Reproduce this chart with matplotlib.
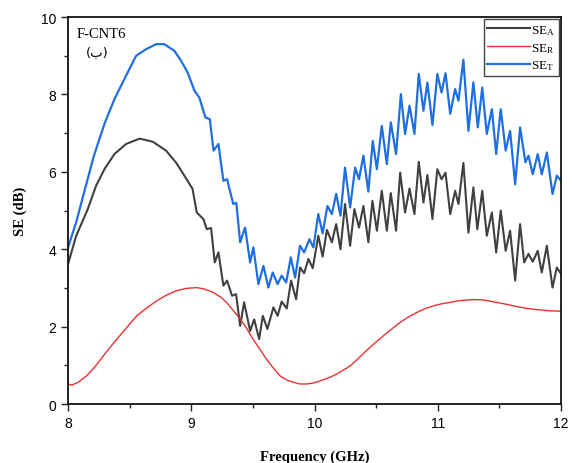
import matplotlib
matplotlib.use("Agg")
import matplotlib.pyplot as plt
from matplotlib.ticker import MultipleLocator

# SE_A (absorption), peaks and troughs of the ripple
freq_a = [8.00, 8.065, 8.16, 8.227, 8.295, 8.376, 8.47, 8.58, 8.687, 8.795,
          8.876, 8.944, 9.01, 9.044, 9.098, 9.125, 9.16, 9.19, 9.22, 9.26,
          9.29, 9.33, 9.363, 9.396, 9.428, 9.477, 9.51, 9.55, 9.58, 9.617,
          9.666, 9.70, 9.733, 9.774, 9.809, 9.85, 9.882, 9.915, 9.95, 9.985,
          10.03, 10.065, 10.10, 10.14, 10.175, 10.21, 10.247, 10.288, 10.323, 10.36,
          10.396, 10.436, 10.469, 10.505, 10.545, 10.586, 10.618, 10.661, 10.694, 10.734,
          10.77, 10.81, 10.845, 10.883, 10.915, 10.956, 10.996, 11.03, 11.062, 11.10,
          11.14, 11.167, 11.207, 11.248, 11.288, 11.32, 11.36, 11.397, 11.438, 11.473,
          11.51, 11.55, 11.586, 11.627, 11.667, 11.70, 11.735, 11.77, 11.81, 11.843,
          11.884, 11.93, 11.965, 12.0]
se_a = [3.62, 4.34, 5.04, 5.64, 6.07, 6.46, 6.72, 6.86, 6.78, 6.55,
        6.24, 5.90, 5.56, 4.95, 4.78, 4.52, 4.55, 3.66, 3.92, 3.06,
        3.19, 2.80, 2.84, 2.02, 2.63, 1.89, 2.19, 1.68, 2.28, 1.94,
        2.50, 2.28, 2.65, 2.47, 3.19, 2.71, 3.53, 3.38, 3.75, 3.51,
        4.35, 3.81, 4.50, 4.18, 4.65, 4.00, 5.17, 4.09, 5.04, 4.56,
        5.12, 4.18, 5.25, 4.48, 5.51, 4.48, 5.45, 4.48, 5.98, 4.95,
        5.57, 4.91, 6.26, 5.21, 5.92, 4.78, 6.07, 5.81, 5.98, 4.91,
        5.51, 5.17, 6.23, 4.43, 5.60, 4.52, 5.51, 4.35, 4.95, 3.92,
        5.00, 3.96, 4.48, 3.19, 4.65, 3.66, 3.88, 3.68, 3.96, 3.40,
        4.09, 3.01, 3.53, 3.36]

# SE_R (reflection), smooth curve
freq_r = [8.00, 8.03, 8.08, 8.15, 8.22, 8.287, 8.35, 8.42, 8.49, 8.557,
          8.64, 8.72, 8.80, 8.88, 8.96, 9.044, 9.11, 9.18, 9.24, 9.288,
          9.34, 9.396, 9.45, 9.50, 9.555, 9.61, 9.665, 9.72, 9.775, 9.83,
          9.88, 9.937, 10.0, 10.045, 10.10, 10.15, 10.22, 10.29, 10.355, 10.42,
          10.49, 10.56, 10.63, 10.694, 10.76, 10.83, 10.9, 10.964, 11.03, 11.10,
          11.17, 11.235, 11.30, 11.37, 11.44, 11.505, 11.57, 11.64, 11.71, 11.775,
          11.84, 11.91, 12.0]
se_r = [0.52, 0.49, 0.56, 0.73, 0.97, 1.25, 1.50, 1.77, 2.03, 2.28,
        2.49, 2.67, 2.82, 2.93, 2.99, 3.01, 2.97, 2.88, 2.76, 2.62,
        2.42, 2.20, 1.95, 1.68, 1.42, 1.16, 0.93, 0.73, 0.62, 0.56,
        0.52, 0.52, 0.55, 0.60, 0.66, 0.73, 0.85, 0.99, 1.18, 1.38,
        1.58, 1.77, 1.95, 2.11, 2.25, 2.37, 2.47, 2.54, 2.59, 2.63,
        2.67, 2.69, 2.70, 2.69, 2.65, 2.61, 2.57, 2.52, 2.48, 2.45,
        2.43, 2.41, 2.40]

# SE_T (total)
freq_t = [8.00, 8.065, 8.13, 8.21, 8.295, 8.376, 8.457, 8.552, 8.633, 8.714,
          8.78, 8.862, 8.917, 8.97, 9.025, 9.065, 9.114, 9.15, 9.18, 9.22,
          9.26, 9.29, 9.34, 9.365, 9.396, 9.436, 9.477, 9.503, 9.544, 9.585,
          9.625, 9.66, 9.70, 9.733, 9.769, 9.807, 9.842, 9.882, 9.915, 9.958,
          9.99, 10.03, 10.065, 10.104, 10.14, 10.175, 10.21, 10.247, 10.288, 10.329,
          10.36, 10.396, 10.436, 10.472, 10.505, 10.545, 10.586, 10.618, 10.661, 10.70,
          10.734, 10.77, 10.81, 10.845, 10.883, 10.915, 10.956, 10.996, 11.03, 11.062,
          11.10, 11.14, 11.167, 11.207, 11.248, 11.288, 11.324, 11.36, 11.397, 11.438,
          11.473, 11.51, 11.55, 11.586, 11.627, 11.667, 11.71, 11.735, 11.77, 11.81,
          11.843, 11.884, 11.93, 11.965, 12.0]
se_t = [4.05, 4.69, 5.47, 6.42, 7.24, 7.88, 8.40, 9.00, 9.17, 9.30,
        9.30, 9.13, 8.87, 8.57, 8.10, 7.92, 7.41, 7.36, 6.55, 6.72,
        5.77, 5.81, 5.17, 5.20, 4.18, 4.56, 3.66, 4.05, 3.10, 3.57,
        3.01, 3.40, 3.10, 3.32, 3.14, 3.79, 3.27, 4.09, 3.92, 4.26,
        4.05, 4.91, 4.41, 5.12, 4.91, 5.43, 4.87, 6.11, 5.08, 6.11,
        5.81, 6.42, 5.49, 6.80, 6.07, 7.19, 6.20, 7.28, 6.46, 8.01,
        6.98, 7.71, 6.98, 8.53, 7.58, 8.31, 7.21, 8.53, 8.05, 8.55,
        7.50, 8.14, 7.84, 8.90, 7.06, 8.31, 7.15, 8.18, 6.98, 7.62,
        6.46, 7.62, 6.55, 7.06, 5.68, 7.15, 6.25, 6.42, 5.94, 6.46,
        5.94, 6.50, 5.43, 5.90, 5.77]

x_ticks = [8, 9, 10, 11, 12]
y_ticks = [0, 2, 4, 6, 8, 10]

plt.rcParams['font.family'] = ['Liberation Sans', 'DejaVu Sans']
plt.rcParams['mathtext.default'] = 'regular'

fig = plt.figure(figsize=(5.72, 4.64), dpi=100)
ax = fig.add_axes([0.119, 0.127, 0.862, 0.834])

ax.plot(freq_a, se_a, color='#404040', lw=1.5, label=r'SE$_\mathregular{A}$')
ax.plot(freq_r, se_r, color='#ee3030', lw=1.0, label=r'SE$_\mathregular{R}$')
ax.plot(freq_t, se_t, color='#1f6fe0', lw=1.6, label=r'SE$_\mathregular{T}$')

ax.set_xlim(8, 12)
ax.set_ylim(0, 10)
ax.set_xticks(x_ticks)
ax.set_yticks(y_ticks)
ax.xaxis.set_minor_locator(MultipleLocator(0.5))
ax.yaxis.set_minor_locator(MultipleLocator(1))
ax.tick_params(which='both', direction='out', top=False, right=False,
               labelsize=10, width=1.0, color='#222222')
ax.tick_params(which='major', length=5)
ax.tick_params(which='minor', length=3)
for s in ax.spines.values():
    s.set_linewidth(1.3)
    s.set_color('#111111')

ax.set_xlabel('Frequency (GHz)', family='Liberation Serif', fontweight='bold',
              fontsize=10.5, labelpad=14)
ax.set_ylabel('SE (dB)', family='Liberation Serif', fontweight='bold',
              fontsize=10.5, labelpad=10)

ax.text(0.018, 0.975, 'F-CNT6', transform=ax.transAxes, ha='left', va='top',
        family='Liberation Serif', fontsize=10.5)
ax.text(0.06, 0.925, '(ب)', transform=ax.transAxes, ha='center', va='top',
        family=['DejaVu Sans'], fontsize=9.5)

leg = ax.legend(loc='upper right', fancybox=False, framealpha=1,
                edgecolor='#444444', prop={'family': 'Liberation Serif', 'size': 9.5},
                handlelength=3.2, handletextpad=0.1, borderpad=0.3,
                labelspacing=0.3, borderaxespad=0.15)
leg.get_frame().set_linewidth(1.0)

fig.savefig('out.png', dpi=100)
